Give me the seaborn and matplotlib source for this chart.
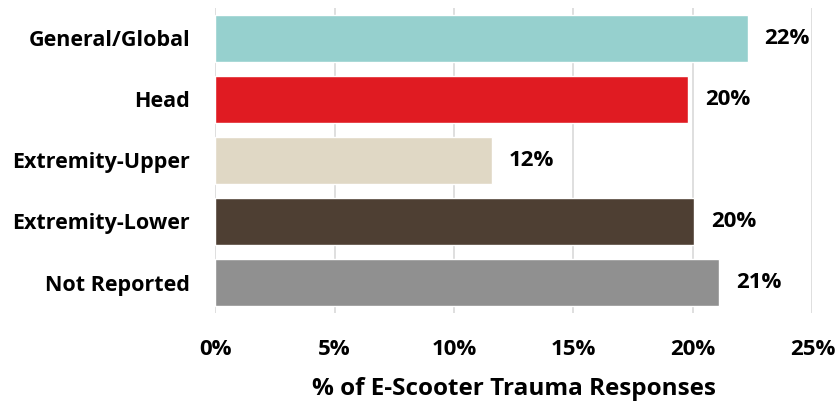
import seaborn as sns
import matplotlib.pyplot as plt
import pandas as pd

# body regions of e-scooter trauma responses
categories = ["General/Global", "Head", "Extremity-Upper", "Extremity-Lower", "Not Reported"]
pct = [22.3, 19.8, 11.6, 20.05, 21.1]
colors = ["#96D0CE", "#E01B22", "#E0D8C5", "#4E3F33", "#909090"]
xticks = [0, 5, 10, 15, 20, 25]

df = pd.DataFrame({"region": categories, "pct": pct})

sns.set_style("white")
plt.rcParams["font.family"] = ["Open Sans", "DejaVu Sans"]
plt.rcParams["text.color"] = "black"
plt.rcParams["xtick.color"] = "black"
plt.rcParams["ytick.color"] = "black"
plt.rcParams["axes.labelcolor"] = "black"

fig = plt.figure(figsize=(8.35, 4.03), dpi=100)
ax = fig.add_axes([0.2575, 0.2233, 0.7155, 0.757])

sns.barplot(data=df, x="pct", y="region", hue="region", palette=colors,
            order=categories, orient="h", width=0.77, legend=False, ax=ax,
            saturation=1)

for cont in ax.containers:
    ax.bar_label(cont, fmt="%.0f%%", padding=12, fontsize=16, fontweight="bold")

ax.set_xlim(0, 25)
ax.set_xticks(xticks)
ax.set_xticklabels([f"{t}%" for t in xticks])
ax.xaxis.grid(True, color="#d9d9d9", linewidth=1.2)
ax.set_axisbelow(True)
for s in ["top", "right", "bottom", "left"]:
    ax.spines[s].set_visible(False)
ax.tick_params(axis="both", length=0)
ax.tick_params(axis="y", pad=18, labelsize=15.5)
ax.tick_params(axis="x", pad=19, labelsize=16)
for lbl in ax.get_xticklabels() + ax.get_yticklabels():
    lbl.set_fontweight("bold")
ax.set_ylabel("")
ax.set_xlabel("% of E-Scooter Trauma Responses", fontsize=17.5, fontweight="bold", labelpad=12)

fig.savefig("out.png", dpi=100)
